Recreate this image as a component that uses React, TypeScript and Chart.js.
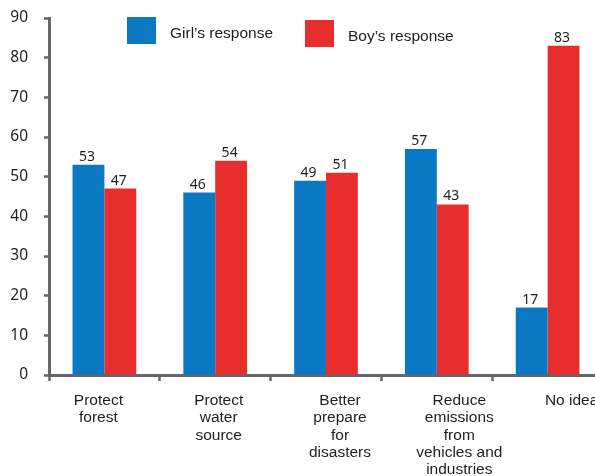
import React, { useEffect, useRef } from "react";
import { Chart, registerables } from "chart.js";

Chart.register(...registerables);

const categories: string[][] = [
  ["Protect", "forest"],
  ["Protect", "water", "source"],
  ["Better", "prepare", "for", "disasters"],
  ["Reduce", "emissions", "from", "vehicles and", "industries"],
  ["No idea"],
];
const girlsResponse = [53, 46, 49, 57, 17];
const boysResponse = [47, 54, 51, 43, 83];
const seriesNames = ["Girl\u2019s response", "Boy\u2019s response"];
const seriesColors = ["#0a78c2", "#e82d2d"];
const yTicks = { min: 0, max: 90, step: 10 };

const AXIS = "#666666";
const TEXT = "#1e1e1e";
const LABEL_FONT = "15.5px 'Liberation Sans', Arial, sans-serif";

// value labels above each bar
const valueLabels = {
  id: "valueLabels",
  afterDatasetsDraw(chart: any) {
    const ctx = chart.ctx;
    ctx.save();
    ctx.font = "14px 'Noto Sans'";
    ctx.fillStyle = TEXT;
    ctx.textAlign = "center";
    ctx.textBaseline = "alphabetic";
    chart.data.datasets.forEach((ds: any, i: number) => {
      const meta = chart.getDatasetMeta(i);
      meta.data.forEach((bar: any, j: number) => {
        ctx.fillText(String(ds.data[j]), bar.x - 1.5, bar.y - 4);
      });
    });
    ctx.restore();
  },
};

// category labels under the axis, spread a little wider than the bar groups
const categoryLabels = {
  id: "categoryLabels",
  afterDraw(chart: any) {
    const ctx = chart.ctx;
    const xScale = chart.scales.x;
    const nudge = [-6, 3.5, 14, 22.5, 24];
    const lineGap = 17.3;
    const firstLineTop = chart.chartArea.bottom + 18;
    ctx.save();
    ctx.font = LABEL_FONT;
    ctx.fillStyle = TEXT;
    ctx.textAlign = "center";
    ctx.textBaseline = "top";
    (chart.data.labels as string[][]).forEach((lines, i) => {
      const x = xScale.getPixelForValue(i) + (nudge[i] || 0);
      lines.forEach((line, k) => {
        ctx.fillText(line, x, firstLineTop + k * lineGap);
      });
    });
    ctx.restore();
  },
};

// legend boxes drawn inside the top of the plot
const floatingLegend = {
  id: "floatingLegend",
  afterDraw(chart: any) {
    const ctx = chart.ctx;
    const spots = [
      { bx: 127, by: 17, tx: 170, ty: 34 },
      { bx: 305, by: 20, tx: 348, ty: 37 },
    ];
    ctx.save();
    ctx.font = LABEL_FONT;
    ctx.textBaseline = "middle";
    ctx.textAlign = "left";
    chart.data.datasets.forEach((ds: any, i: number) => {
      const s = spots[i];
      ctx.fillStyle = ds.backgroundColor;
      ctx.fillRect(s.bx, s.by, 29, 27);
      ctx.fillStyle = TEXT;
      ctx.fillText(ds.label, s.tx, s.ty);
    });
    ctx.restore();
  },
};

export default function App() {
  const canvasRef = useRef<HTMLCanvasElement>(null);

  useEffect(() => {
    const prevMargin = document.body.style.margin;
    document.body.style.margin = "0";
    const chart = new Chart(canvasRef.current!, {
      type: "bar",
      data: {
        labels: categories,
        datasets: [
          {
            label: seriesNames[0],
            data: girlsResponse,
            backgroundColor: seriesColors[0],
            categoryPercentage: 0.575,
            barPercentage: 1,
          },
          {
            label: seriesNames[1],
            data: boysResponse,
            backgroundColor: seriesColors[1],
            categoryPercentage: 0.575,
            barPercentage: 1,
          },
        ],
      },
      options: {
        responsive: false,
        animation: false,
        layout: { padding: { top: 18, left: 0, right: 0, bottom: 0 } },
        plugins: {
          legend: { display: false },
          tooltip: { enabled: false },
        },
        scales: {
          x: {
            grid: {
              offset: true,
              drawOnChartArea: false,
              drawTicks: true,
              tickLength: 6,
              tickWidth: 2.5,
              tickColor: AXIS,
            },
            border: { color: AXIS, width: 3 },
            ticks: { display: false },
            afterFit: (s: any) => {
              s.height = 101;
            },
          },
          y: {
            min: yTicks.min,
            max: yTicks.max,
            grid: {
              drawOnChartArea: false,
              drawTicks: true,
              tickLength: 5,
              tickWidth: 2.5,
              tickColor: AXIS,
            },
            border: { color: AXIS, width: 3 },
            ticks: {
              stepSize: yTicks.step,
              color: TEXT,
              font: { family: "'Noto Sans'", size: 15.5 },
              padding: 16,
            },
            afterFit: (s: any) => {
              s.width = 49;
              s.paddingTop = 0;
              s.paddingBottom = 0;
            },
          },
        },
      },
      plugins: [valueLabels, categoryLabels, floatingLegend],
    });
    return () => {
      chart.destroy();
      document.body.style.margin = prevMargin;
    };
  }, []);

  return (
    <div
      style={{
        position: "fixed",
        left: 0,
        top: 0,
        width: 595,
        height: 476,
        overflow: "hidden",
        background: "#ffffff",
      }}
    >
      <canvas ref={canvasRef} width={603} height={476} style={{ width: 603, height: 476, display: "block" }} />
    </div>
  );
}
